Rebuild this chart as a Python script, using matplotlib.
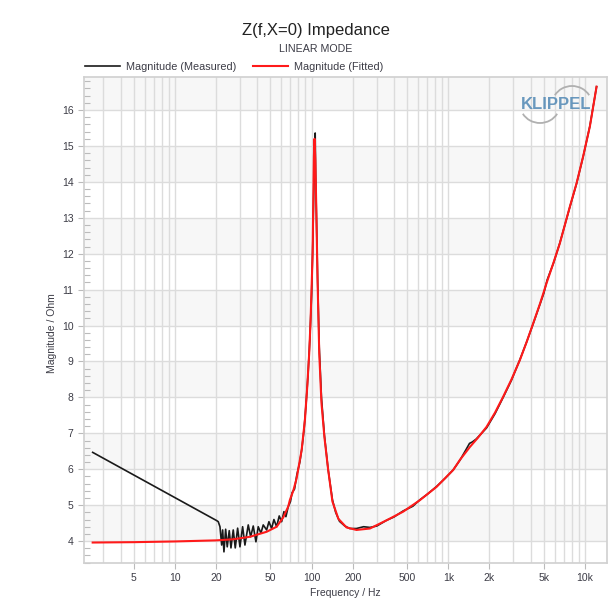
import numpy as np
import matplotlib
matplotlib.use('Agg')
import matplotlib.pyplot as plt
from matplotlib.patches import Arc

plt.rcParams['font.family'] = ['Liberation Sans', 'DejaVu Sans']

# measured impedance magnitude (Hz, Ohm)
meas_f = [2.5, 20.2, 20.74, 21.35, 21.97, 22.33, 22.83, 23.49, 24.13, 24.96, 25.69,
          26.70, 27.62, 28.75, 29.89, 31.27, 32.51, 34.38, 35.80, 37.40, 39.13,
          40.68, 42.57, 44.25, 46.86, 48.71, 50.97, 52.98, 55.46, 57.94, 60.34,
          62.72, 64.86, 67.43, 70, 72, 75, 78, 82, 85, 88, 91, 94, 97, 100, 102,
          104, 105.5, 106.2, 107, 108.5, 110.6, 113.7, 118, 124, 132, 142, 150,
          160, 175, 190, 213, 240, 267, 300, 354, 400, 468, 550, 620, 700, 821,
          950, 1086, 1216, 1350, 1430, 1500, 1600, 1906, 2200, 2521, 2900, 3341,
          3750, 4180, 5000, 5290, 5900, 6551, 7755, 8680, 9700, 10860, 12160]
meas_z = [6.47, 4.57, 4.54, 4.40, 3.89, 4.31, 3.70, 4.33, 3.84, 4.29, 3.81,
          4.31, 3.81, 4.36, 3.84, 4.40, 3.89, 4.45, 4.12, 4.42, 3.98,
          4.40, 4.22, 4.45, 4.31, 4.54, 4.35, 4.60, 4.40, 4.70, 4.54,
          4.82, 4.68, 4.96, 5.10, 5.35, 5.45, 5.85, 6.20, 6.60, 7.10, 7.80, 8.60, 9.60, 10.9, 12.3,
          14.0, 15.0, 15.36, 14.2, 13.0, 11.3, 9.4, 8.0, 6.95, 6.0, 5.15, 4.80,
          4.55, 4.42, 4.35, 4.35, 4.40, 4.38, 4.42, 4.58, 4.67, 4.84, 4.97, 5.15, 5.30, 5.52,
          5.75, 5.98, 6.25, 6.55, 6.72, 6.76, 6.84, 7.15, 7.55, 8.00, 8.48, 9.05,
          9.55, 10.05, 10.9, 11.27, 11.75, 12.3, 13.3, 13.95, 14.7, 15.55, 16.65]

# fitted model (Hz, Ohm)
fit_f = [2.5, 5, 10, 20, 26.7, 35.4, 46.9, 55.5, 62.0, 67.4, 69.4, 73.4, 77.7,
         84.5, 89.3, 92.9, 96.0, 98.3, 100, 101.7, 102.7, 103.9, 105, 106.5,
         108.5, 110.6, 113.7, 118, 124, 132, 142, 157, 180, 213, 267, 354, 468,
         620, 821, 1086, 1216, 1439, 1650, 1906, 2200, 2521, 2900, 3341, 3750,
         4180, 4700, 5236, 5850, 6551, 7755, 8680, 9700, 10860, 12160]
fit_z = [3.96, 3.97, 3.99, 4.02, 4.05, 4.12, 4.26, 4.40, 4.66, 4.96, 5.15, 5.40, 5.75,
         6.53, 7.37, 8.30, 9.23, 10.16, 11.08, 12.01, 13.3, 14.7, 15.2, 14.6,
         13.0, 11.2, 9.23, 7.85, 6.90, 6.00, 5.10, 4.62, 4.38, 4.31, 4.35, 4.58, 4.82,
         5.14, 5.51, 5.98, 6.26, 6.62, 6.88, 7.18, 7.58, 8.02, 8.50, 9.04, 9.55,
         10.06, 10.62, 11.18, 11.72, 12.29, 13.31, 13.96, 14.71, 15.54, 16.65]

x_ticks = [5, 10, 20, 50, 100, 200, 500, 1000, 2000, 5000, 10000]
x_labels = ['5', '10', '20', '50', '100', '200', '500', '1k', '2k', '5k', '10k']
y_ticks = list(range(4, 17))

txt = '#3c3c46'
grid_c = '#dcdcdc'

fig = plt.figure(figsize=(6.16, 6.06), dpi=100)
ax = fig.add_axes([84 / 616, 1 - 563 / 606, (607 - 84) / 616, (563 - 77) / 606])

for y0 in range(4, 17, 2):
    ax.axhspan(y0, y0 + 1, color='#f7f7f7', zorder=0, lw=0)

ax.plot(meas_f, meas_z, color='#1a1a1a', lw=1.2, label='Magnitude (Measured)', zorder=3)
ax.plot(fit_f, fit_z, color='#ff1a1a', lw=1.5, label='Magnitude (Fitted)', zorder=4)

ax.set_xscale('log')
ax.set_xlim(2.16, 14500)
ax.set_ylim(3.39, 16.92)

minor_x = [m * 10 ** e for e in range(0, 5) for m in range(1, 10)]
minor_x = [v for v in minor_x if 2.16 < v < 14500]
ax.set_xticks(minor_x, minor=True)
ax.set_xticks(x_ticks)
ax.set_xticklabels(x_labels)
ax.set_yticks(y_ticks)
ax.set_yticks(np.arange(3.4, 16.92, 0.2), minor=True)

ax.grid(True, which='major', axis='y', color=grid_c, lw=1.0, zorder=1)
ax.grid(True, which='both', axis='x', color=grid_c, lw=1.0, zorder=1)
ax.set_axisbelow(True)

ax.tick_params(axis='both', which='major', labelsize=7.5, colors=txt, length=4,
               width=0.8, direction='out', color='#bbbbbb')
ax.tick_params(axis='x', which='minor', length=0)
ax.tick_params(axis='y', which='minor', length=4, width=0.8, direction='in', color='#bbbbbb')

for s in ax.spines.values():
    s.set_color('#d0d0d0')
    s.set_linewidth(1.2)

ax.set_xlabel('Frequency / Hz', fontsize=7.5, color=txt, labelpad=3)
ax.set_ylabel('Magnitude / Ohm', fontsize=7.5, color=txt)
ax.yaxis.set_label_coords(-0.051, 0.473)

fig.text(316 / 616, 1 - 30 / 606, 'Z(f,X=0) Impedance', ha='center', va='center',
         fontsize=12, color='#222222')
fig.text(316 / 616, 1 - 49 / 606, 'LINEAR MODE', ha='center', va='center',
         fontsize=7.7, color=txt)

ax.legend(loc='center left', bbox_to_anchor=(-0.006, 1 + 10 / 486), ncol=2, frameon=False,
          fontsize=7.8, handlelength=3.2, handletextpad=0.6, columnspacing=1.5,
          borderaxespad=0, labelcolor=txt)

# logo
fig.text(556 / 616, 1 - 105 / 606, 'KLIPPEL', ha='center', va='center', fontsize=12,
         fontweight='bold', color='#5088b4', alpha=0.85)
fig.add_artist(Arc((572 / 616, 1 - 105 / 606), 40 / 616, 38 / 606, theta1=30, theta2=150,
                   transform=fig.transFigure, color='#b0b0b0', lw=1.3))
fig.add_artist(Arc((540 / 616, 1 - 104 / 606), 40 / 616, 38 / 606, theta1=210, theta2=330,
                   transform=fig.transFigure, color='#b0b0b0', lw=1.3))

fig.savefig('out.png', dpi=100)
